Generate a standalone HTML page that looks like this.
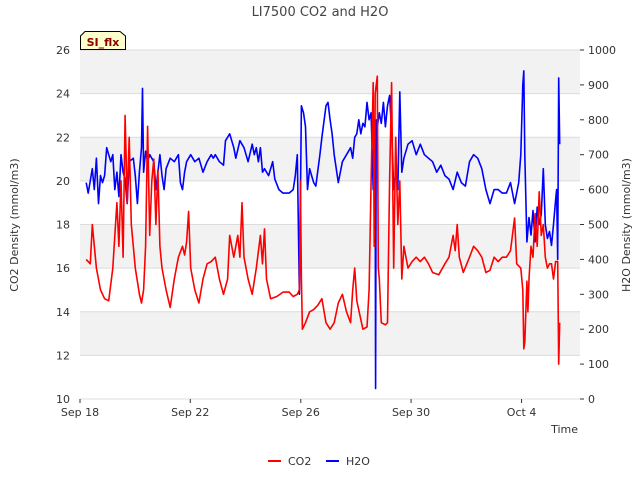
<!DOCTYPE html>
<html><head><meta charset="utf-8"><style>
body{margin:0;background:#fff;font-family:"Liberation Sans",sans-serif;}
svg text{font-family:"DejaVu Sans","Liberation Sans",sans-serif;}
</style></head><body>
<svg id="c" width="640" height="480" xmlns="http://www.w3.org/2000/svg"><defs><clipPath id="clip"><rect x="80" y="50" width="500" height="349"/></clipPath></defs></svg>
<script>
const co2Days=[0.3,0.5,0.6,0.8,1.0,1.2,1.4,1.6,1.8,1.9,2.0,2.1,2.2,2.3,2.4,2.5,2.7,2.9,3.0,3.1,3.2,3.3,3.4,3.5,3.6,3.7,3.8,3.9,4.0,4.2,4.4,4.6,4.8,5.0,5.1,5.2,5.3,5.4,5.6,5.8,6.0,6.2,6.4,6.6,6.8,7.0,7.2,7.3,7.5,7.7,7.8,7.9,8.0,8.2,8.4,8.6,8.8,8.9,9.0,9.1,9.3,9.6,9.9,10.2,10.4,10.6,10.7,10.75,10.8,10.85,11.0,11.2,11.4,11.6,11.8,12.0,12.2,12.4,12.6,12.8,13.0,13.2,13.3,13.4,13.5,13.8,14.0,14.1,14.2,14.3,14.35,14.4,14.5,14.55,14.6,14.7,14.9,15.0,15.1,15.2,15.3,15.4,15.5,15.6,15.7,15.8,16.0,16.2,16.4,16.6,16.8,17.0,17.2,17.5,17.8,18.0,18.2,18.3,18.4,18.5,18.7,19.0,19.2,19.4,19.6,19.8,20.0,20.2,20.4,20.6,20.8,21.0,21.2,21.3,21.5,21.6,21.65,21.7,21.8,21.85,21.9,22.0,22.1,22.2,22.3,22.4,22.5,22.6,22.7,22.8,22.9,23.0,23.1,23.2,23.3,23.35,23.4];
const co2Values=[16.4,16.2,18,16,15,14.6,14.5,16,19,17,20,16.5,23,19,22,18,16,14.8,14.4,15,17,22.5,17.5,20,21,18,20.5,17,16,15,14.2,15.5,16.5,17,16.6,17.2,18.6,16,15,14.4,15.5,16.2,16.3,16.5,15.5,14.8,15.5,17.5,16.5,17.5,16.5,19,16.5,15.5,14.8,16,17.5,16.2,17.8,15.5,14.6,14.7,14.9,14.9,14.7,14.8,15,20,15.5,13.2,13.5,14,14.1,14.3,14.6,13.5,13.2,13.5,14.4,14.8,14,13.5,15,16,14.5,13.2,13.3,15,20,24.5,17,24,24.8,16,15.5,13.5,13.4,13.5,20,24.5,16,22,18,20,15.5,17,16,16.3,16.5,16.3,16.5,16.2,15.8,15.7,16.2,16.5,17.5,16.8,18,16.5,15.8,16.5,17,16.8,16.5,15.8,15.9,16.5,16.3,16.5,16.5,16.8,18.3,16.2,16.0,15,12.3,12.6,15.4,14,15.5,17,16.5,18.5,17,19.5,17.5,18,16.5,16,16.2,16.2,15.5,16.3,16.3,11.6,13.5];
const h2oDays=[0.3,0.4,0.6,0.7,0.8,0.9,1.0,1.1,1.2,1.3,1.4,1.5,1.6,1.7,1.8,1.9,2.0,2.1,2.2,2.3,2.4,2.6,2.7,2.8,2.9,3.0,3.05,3.1,3.2,3.3,3.4,3.6,3.7,3.8,3.9,4.0,4.1,4.2,4.4,4.6,4.8,4.9,5.0,5.1,5.2,5.4,5.6,5.8,6.0,6.2,6.4,6.5,6.6,6.8,7.0,7.1,7.3,7.5,7.6,7.8,8.0,8.2,8.4,8.5,8.6,8.7,8.8,8.9,9.0,9.2,9.4,9.5,9.7,9.9,10.2,10.4,10.5,10.6,10.7,10.8,10.9,11.0,11.1,11.2,11.3,11.4,11.5,11.7,11.8,12.0,12.1,12.2,12.3,12.4,12.6,12.8,13.0,13.2,13.3,13.4,13.5,13.6,13.7,13.8,13.9,14.0,14.1,14.2,14.3,14.35,14.4,14.42,14.45,14.5,14.6,14.7,14.8,14.9,15.0,15.1,15.2,15.3,15.4,15.5,15.6,15.7,15.8,16.0,16.2,16.4,16.6,16.8,17.0,17.2,17.4,17.6,17.8,18.0,18.2,18.4,18.6,18.8,19.0,19.2,19.4,19.6,19.8,20.0,20.2,20.4,20.6,20.8,21.0,21.2,21.4,21.5,21.6,21.65,21.7,21.8,21.9,22.0,22.1,22.2,22.3,22.4,22.5,22.6,22.7,22.8,22.9,23.0,23.1,23.2,23.25,23.3,23.35,23.4];
const h2oValues=[620,590,660,600,690,560,640,620,640,720,700,680,700,600,650,580,700,650,630,560,680,690,640,560,650,720,890,650,710,680,700,680,600,650,700,640,600,660,690,680,700,620,600,650,680,700,680,690,650,680,700,690,700,680,670,740,760,720,690,740,720,680,730,700,720,680,720,650,660,640,680,630,600,590,590,600,640,700,300,840,820,780,600,660,640,620,610,700,750,840,850,800,760,700,620,680,700,720,690,750,760,800,760,790,780,850,800,820,600,800,600,30,800,780,820,790,850,780,840,870,770,600,650,600,880,650,690,730,740,700,730,700,690,680,650,670,640,630,600,650,620,610,680,700,690,660,600,560,600,600,590,590,620,560,620,700,900,940,700,450,520,470,540,450,550,500,530,660,500,460,480,440,500,570,600,400,920,730];
const xTickLabels=["Sep 18","Sep 22","Sep 26","Sep 30","Oct 4"];
const xTickDays=[0,5.38,10.77,16.15,21.54];
const yLeftTicks=[10,12,14,16,18,20,22,24,26];
const yRightTicks=[0,100,200,300,400,500,600,700,800,900,1000];

const L=80,R=580,T=50,B=399;
const xS=d=>L+d*20.5;
const yL=v=>B-(v-10)/16*(B-T);
const yR=v=>B-v/1000*(B-T);
const svg=document.getElementById('c');
const NS='http://www.w3.org/2000/svg';
function add(tag,attrs,parent,text){const e=document.createElementNS(NS,tag);for(const k in attrs)e.setAttribute(k,attrs[k]);if(text!==undefined)e.textContent=text;(parent||svg).appendChild(e);return e;}

const bg=add('rect',{x:L,y:T,width:R-L,height:B-T,fill:'#fff'});


for(let i=0;i<yLeftTicks.length-1;i+=2){
  const band=add('rect',{x:L,y:yL(yLeftTicks[i+2]),width:R-L,height:yL(yLeftTicks[i+1])-yL(yLeftTicks[i+2]),fill:'#f2f2f2'});
  
  
}
yLeftTicks.forEach(v=>{
  const g=add('line',{x1:L,x2:R,y1:yL(v),y2:yL(v),stroke:'#dcdcdc','stroke-width':1});
  
  
  const t=add('text',{x:L-10,y:yL(v)+4,'text-anchor':'end','font-size':11,fill:'#333'},null,String(v));
  
  
});
yRightTicks.forEach(v=>{
  add('line',{x1:R,x2:R+4,y1:yR(v),y2:yR(v),stroke:'#333'});
  const t=add('text',{x:R+8,y:yR(v)+4,'font-size':11,fill:'#333'},null,String(v));
  
  
});
xTickLabels.forEach((s,i)=>{
  const x=xS(xTickDays[i]);
  add('line',{x1:x,x2:x,y1:B,y2:B+4,stroke:'#333'});
  const t=add('text',{x:x,y:B+17,'text-anchor':'middle','font-size':11,fill:'#333'},null,s);
  
  
});
function path(days,vals,ys,color,name){
  let d='';days.forEach((t,i)=>{d+=(i?'L':'M')+xS(t).toFixed(1)+','+ys(vals[i]).toFixed(1);});
  const p=add('path',{d:d,fill:'none',stroke:color,'stroke-width':1.6,'stroke-linejoin':'round','clip-path':'url(#clip)'});
  
  
}
path(h2oDays,h2oValues,yR,'#0000ff','h2o-series');
path(co2Days,co2Values,yL,'#ff0000','co2-series');
</script>
<svg width="640" height="480" style="position:absolute;left:0;top:0" xmlns="http://www.w3.org/2000/svg">
<text x="320" y="16" text-anchor="middle" font-size="13" fill="#444">LI7500 CO2 and H2O</text>
<g>
<path d="M80.5,49.5 V36 L85,31.5 H120 L125.5,36 V49.5 Z" fill="#ffffcc" stroke="#000"/>
<text x="103" y="46" text-anchor="middle" font-size="11" font-weight="bold" fill="#8b0000">SI_flx</text>
</g>
<text transform="translate(18,225) rotate(-90)" text-anchor="middle" font-size="11" fill="#333">CO2 Density (mmol/m3)</text>
<text transform="translate(630,225) rotate(-90)" text-anchor="middle" font-size="11" fill="#333">H2O Density (mmol/m3)</text>
<text x="578" y="433" text-anchor="end" font-size="11" fill="#333">Time</text>
<g>
<line x1="268" x2="281" y1="461" y2="461" stroke="#ff0000" stroke-width="2"/>
<text x="288" y="465" font-size="11" fill="#333">CO2</text>
<line x1="326" x2="339" y1="461" y2="461" stroke="#0000ff" stroke-width="2"/>
<text x="346" y="465" font-size="11" fill="#333">H2O</text>
</g>
</svg>
</body></html>
